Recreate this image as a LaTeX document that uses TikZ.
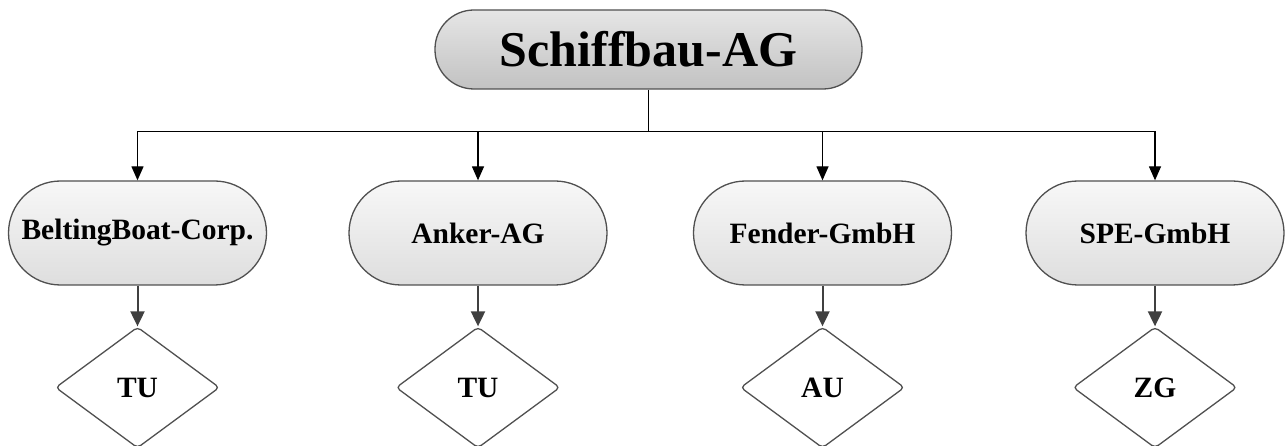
\documentclass[tikz,border=0pt]{standalone}
\usepackage{fontspec}
\setmainfont{Liberation Serif}
\usetikzlibrary{shapes.geometric,arrows.meta}
\definecolor{edge}{HTML}{505050}
\definecolor{arr}{HTML}{404040}
\tikzset{
  topbox/.style={rectangle, rounded corners=39pt, minimum width=427pt, minimum height=79pt,
    draw=edge, line width=1.3pt, top color=black!10, bottom color=black!24, inner sep=0pt,
    font=\bfseries\fontsize{50}{60}\selectfont},
  midbox/.style={rectangle, rounded corners=52pt, minimum width=258pt, minimum height=104pt,
    draw=edge, line width=1.3pt, top color=black!3, bottom color=black!13, inner sep=0pt,
    font=\bfseries\fontsize{29.5}{35}\selectfont},
  dia/.style={diamond, minimum width=164pt, minimum height=121pt, inner sep=0pt,
    draw=edge, line width=1.3pt, fill=white, rounded corners=4pt,
    font=\bfseries\fontsize{29.5}{35}\selectfont},
  upline/.style={draw=black, line width=1.3pt, -{Triangle[width=12pt,length=14pt]}},
  lowline/.style={draw=arr, line width=2pt, -{Triangle[width=14pt,length=15pt]}},
}
\begin{document}
\begin{tikzpicture}[x=1pt,y=-1pt]
\useasboundingbox (0,0) rectangle (1285,446);
\node[topbox] (top) at (648.5,49.5) {Schiffbau-AG};
\node[midbox] (b1) at (137.5,233) {BeltingBoat-Corp.};
\node[midbox] (b2) at (478,233) {Anker-AG};
\node[midbox] (b3) at (822.5,233) {Fender-GmbH};
\node[midbox] (b4) at (1155,233) {SPE-GmbH};
\node[dia] (d1) at (137.5,387.5) {TU};
\node[dia] (d2) at (478,387.5) {TU};
\node[dia] (d3) at (822.5,387.5) {AU};
\node[dia] (d4) at (1155,387.5) {ZG};
\coordinate (bus) at (648.5,131.5);
\draw[black, line width=1.3pt] (top.south) -- (bus);
\draw[upline] (bus) -| (b1.north);
\draw[upline] (bus) -| (b2.north);
\draw[upline] (bus) -| (b3.north);
\draw[upline] (bus) -| (b4.north);
\draw[lowline] (b1.south) -- (d1.north);
\draw[lowline] (b2.south) -- (d2.north);
\draw[lowline] (b3.south) -- (d3.north);
\draw[lowline] (b4.south) -- (d4.north);
\end{tikzpicture}
\end{document}
